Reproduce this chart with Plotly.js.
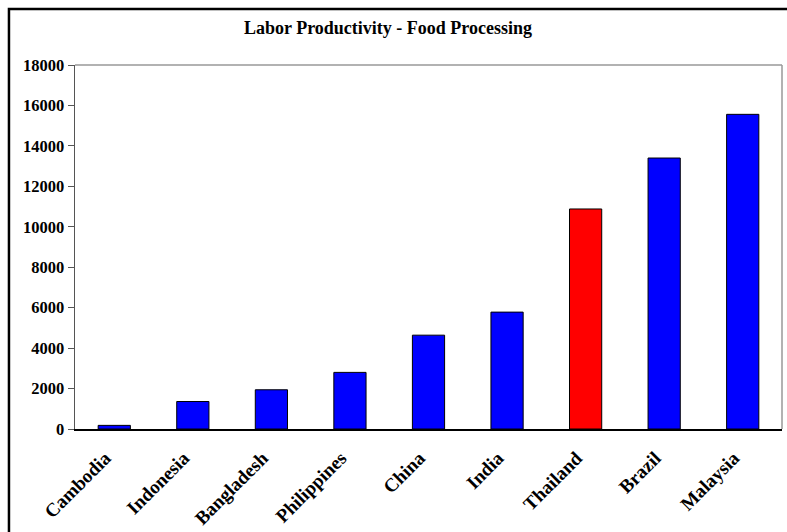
<!DOCTYPE html>
<html>
<head>
<meta charset="utf-8">
<script src="https://cdn.plot.ly/plotly-3.0.1.min.js"></script>
<style>
  html, body { margin: 0; padding: 0; background: #fff; }
  #chart { width: 787px; height: 532px; }
</style>
</head>
<body>
<div id="chart"></div>
<script>
// Labor productivity in food processing, by country
const countries = ["Cambodia", "Indonesia", "Bangladesh", "Philippines", "China",
                   "India", "Thailand", "Brazil", "Malaysia"];
const productivity = [180, 1360, 1940, 2800, 4640, 5780, 10880, 13400, 15560];
const highlighted = "Thailand";
const yTicks = [0, 2000, 4000, 6000, 8000, 10000, 12000, 14000, 16000, 18000];

const barColors = countries.map(c => c === highlighted ? "#FF0000" : "#0000FF");

const font = { family: "Liberation Serif, Times New Roman, serif", color: "#000" };

const trace = {
  type: "bar",
  x: countries,
  y: productivity,
  marker: { color: barColors, line: { color: "#000", width: 1 } },
  hoverinfo: "x+y"
};

const layout = {
  width: 787,
  height: 532,
  margin: { l: 75, r: 5, t: 65, b: 103 },
  paper_bgcolor: "#fff",
  plot_bgcolor: "#fff",
  showlegend: false,
  bargap: 0.59,
  font: font,
  title: {
    text: "<b>Labor Productivity - Food Processing</b>",
    font: { family: font.family, size: 18, color: "#000" },
    x: 0.493, xref: "container", xanchor: "center",
    y: 0.947, yref: "container", yanchor: "middle"
  },
  xaxis: {
    type: "category",
    tickangle: -45,
    ticks: "",
    showline: true,
    linecolor: "#000",
    linewidth: 1.5,
    showgrid: false,
    zeroline: false,
    ticklabelstandoff: 9,
    ticklabelshift: -9,
    tickfont: { family: font.family, size: 19, color: "#000", weight: "bold" }
  },
  yaxis: {
    range: [0, 18000],
    tickvals: yTicks,
    ticktext: yTicks.map(String),
    ticks: "outside",
    ticklen: 6,
    tickcolor: "#555",
    showline: true,
    linecolor: "#555",
    linewidth: 1.5,
    showgrid: false,
    zeroline: false,
    tickfont: { family: font.family, size: 16.5, color: "#000", weight: "bold" }
  },
  shapes: [
    // light frame along the top and right of the plot area
    { type: "line", xref: "paper", yref: "paper", x0: 0, x1: 1, y0: 1, y1: 1,
      line: { color: "#999", width: 1.5 }, layer: "below" },
    { type: "line", xref: "paper", yref: "paper", x0: 1, x1: 1, y0: 0, y1: 1,
      line: { color: "#999", width: 1.5 }, layer: "below" },
    // outer chart border
    { type: "rect", xref: "paper", yref: "paper",
      x0: -0.0934, x1: 1.5, y0: -1, y1: 1.1537,
      line: { color: "#000", width: 2.5 }, fillcolor: "rgba(0,0,0,0)" }
  ]
};

Plotly.newPlot("chart", [trace], layout, { displayModeBar: false, staticPlot: true });
</script>
</body>
</html>
